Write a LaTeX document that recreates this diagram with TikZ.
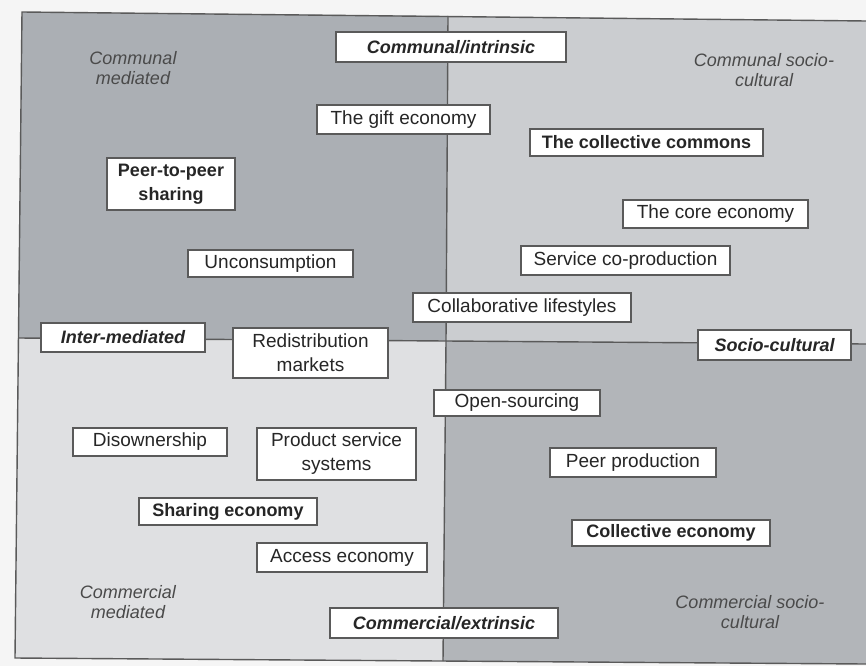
\documentclass[tikz,border=0pt]{standalone}
\usepackage{fontspec}
\setmainfont{Liberation Sans}
\usepackage{xcolor}
\usepackage{tikz}
\usetikzlibrary{calc}
\definecolor{paper}{HTML}{F5F5F5}
\definecolor{qdark}{HTML}{ABAFB4}
\definecolor{qlight}{HTML}{CBCDD0}
\definecolor{qpale}{HTML}{DFE0E2}
\definecolor{qmid}{HTML}{B2B5B9}
\definecolor{edge}{HTML}{5A5A5A}
\definecolor{ink}{HTML}{262626}
\definecolor{muted}{HTML}{4A4A4A}
\tikzset{
  box/.style={draw=edge, fill=white, line width=1.3pt, inner sep=0pt, align=center,
    text=ink, font=\fontsize{19}{24}\selectfont},
  boldbox/.style={box, font=\fontsize{18}{24}\selectfont\bfseries},
  axisbox/.style={box, font=\fontsize{18}{24}\selectfont\bfseries\itshape},
  quadlab/.style={text=muted, align=center, font=\fontsize{18}{20}\selectfont\itshape},
  divider/.style={draw=edge, line width=1.4pt},
}

\begin{document}
\begin{tikzpicture}[x=1pt,y=-1pt]
  \useasboundingbox (0,0) rectangle (866,666);
  \fill[paper] (0,0) rectangle (866,666);

  % frame corners and the centre
  \coordinate (TL) at (22,12);
  \coordinate (TM) at (448,16);
  \coordinate (TR) at (866,21);
  \coordinate (ML) at (18,338);
  \coordinate (C)  at (446,341);
  \coordinate (MR) at (866,344);
  \coordinate (BL) at (15,658);
  \coordinate (BM) at (443,661);
  \coordinate (BR) at (866,664);

  % quadrants
  \fill[qdark]  (TL)--(TM)--(C)--(ML)--cycle;
  \fill[qlight] (TM)--(TR)--(MR)--(C)--cycle;
  \fill[qpale]  (ML)--(C)--(BM)--(BL)--cycle;
  \fill[qmid]   (C)--(MR)--(BR)--(BM)--cycle;
  \draw[divider] (TR)--(TL)--(BL)--(BR);
  \draw[divider] (TM)--(C)--(BM);
  \draw[divider] (ML)--(C)--(MR);

  % quadrant labels
  \node[quadlab] (cm)  at (133,68)  {Communal\\mediated};
  \node[quadlab] (csc) at (764,70)  {Communal socio-\\cultural};
  \node[quadlab] (km)  at (128,602) {Commercial\\mediated};
  \node[quadlab] (ksc) at (750,612) {Commercial socio-\\cultural};

  % axis ends
  \node[axisbox, minimum width=230pt, minimum height=30pt] (intr)  at (451,47)    {Communal/intrinsic};
  \node[axisbox, minimum width=164pt, minimum height=29pt] (inter) at (123,337.5) {Inter-mediated};
  \node[axisbox, minimum width=153pt, minimum height=30pt] (socio) at (774.5,345) {Socio-cultural};
  \node[axisbox, minimum width=228pt, minimum height=30pt] (extr)  at (444,623)   {Commercial/extrinsic};

  % practices
  \node[box, minimum width=173pt, minimum height=29pt]     (gift)    at (403.5,119.5) {The gift economy};
  \node[boldbox, minimum width=233pt, minimum height=27pt] (commons) at (646.5,142.5) {The collective commons};
  \node[box, minimum width=185pt, minimum height=28pt]     (core)    at (715.5,214)   {The core economy};
  \node[box, minimum width=209pt, minimum height=29pt]     (coprod)  at (625.5,260.5) {Service co-production};
  \node[box, minimum width=218pt, minimum height=29pt]     (collab)  at (522,307.5)   {Collaborative lifestyles};
  \node[boldbox, minimum width=128pt, minimum height=52pt] (ptp)     at (171,184)     {Peer-to-peer\\sharing};
  \node[box, minimum width=165pt, minimum height=27pt]     (uncons)  at (270.5,263.5) {Unconsumption};
  \node[box, minimum width=155pt, minimum height=50pt]     (redist)  at (310.5,353)   {Redistribution\\markets};
  \node[box, minimum width=166pt, minimum height=26pt]     (opensrc) at (517,403)     {Open-sourcing};
  \node[box, minimum width=154pt, minimum height=28pt]     (disown)  at (150,442)     {Disownership};
  \node[box, minimum width=159pt, minimum height=52pt]     (pss)     at (336.5,454)   {Product service\\systems};
  \node[boldbox, minimum width=178pt, minimum height=27pt] (sharing) at (228,511.5)   {Sharing economy};
  \node[box, minimum width=170pt, minimum height=29pt]     (access)  at (342,557.5)   {Access economy};
  \node[box, minimum width=166pt, minimum height=29pt]     (peerprod) at (633,462.5)  {Peer production};
  \node[boldbox, minimum width=198pt, minimum height=26pt] (collecon) at (671,533)    {Collective economy};
\end{tikzpicture}
\end{document}
